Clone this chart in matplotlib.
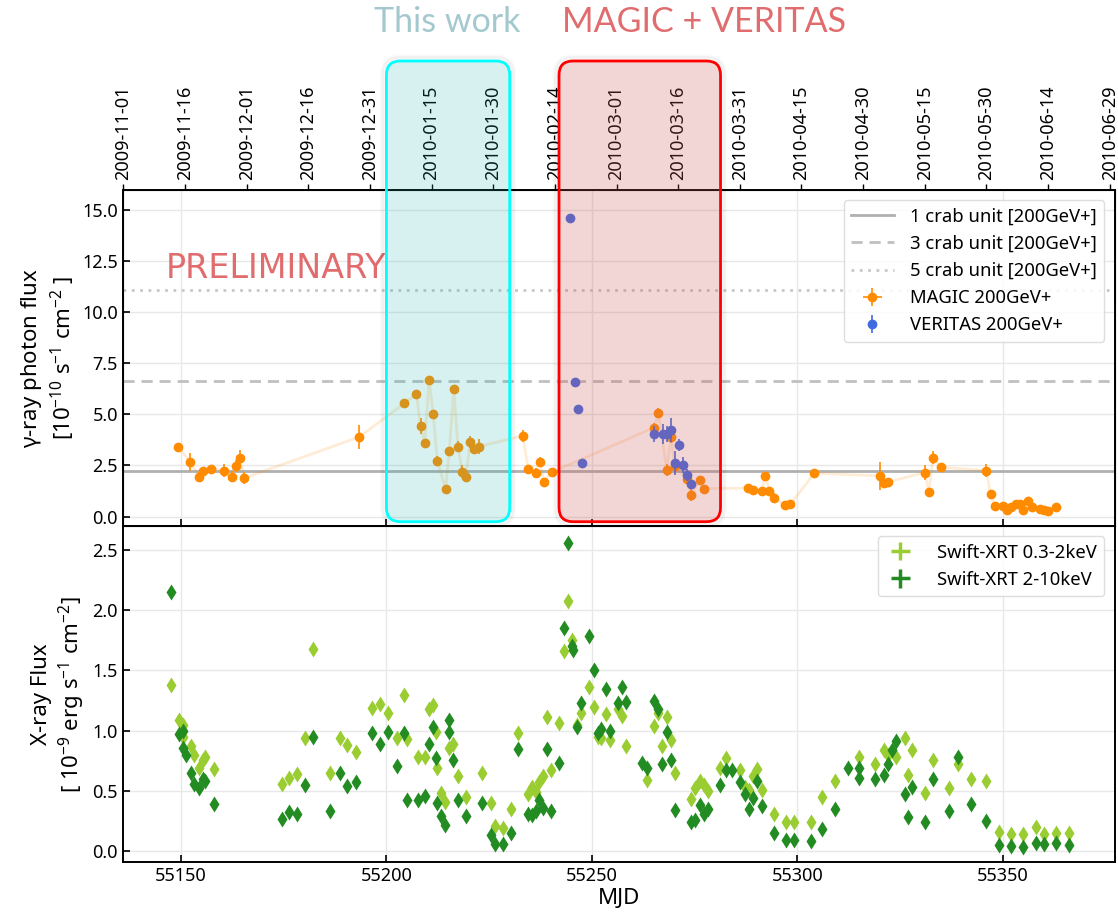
import numpy as np
import matplotlib.pyplot as plt
from matplotlib.patches import FancyBboxPatch
from matplotlib.transforms import IdentityTransform

plt.rcParams['font.family'] = ['Noto Sans', 'DejaVu Sans']
plt.rcParams['mathtext.default'] = 'regular'

# MAGIC 200GeV+ (MJD, flux [1e-10 s-1 cm-2], error)
magic_mjd = [55149.3, 55152.3, 55154.4, 55155.3, 55157.3, 55160.4, 55162.4, 55163.4, 55164.3, 55165.4,
             55193.4, 55204.4, 55207.3, 55208.3, 55209.3, 55210.4, 55211.4, 55212.4, 55214.4, 55215.3,
             55216.4, 55217.4, 55218.4, 55219.3, 55220.4, 55221.4, 55222.5, 55233.2, 55234.5, 55236.3,
             55237.3, 55238.3, 55240.2, 55265.2, 55266.2, 55268.2, 55269.2, 55270.2, 55273.1, 55274.1,
             55276.2, 55277.2, 55288.1, 55289.1, 55291.3, 55292.2, 55293.2, 55294.2, 55297.0, 55298.3,
             55304.1, 55320.0, 55321.0, 55322.1, 55331.0, 55332.0, 55333.0, 55335.0, 55346.0, 55347.0,
             55348.0, 55350.0, 55351.1, 55352.1, 55353.1, 55354.1, 55355.0, 55356.0, 55357.0, 55359.0,
             55360.0, 55361.1, 55363.0]
magic_flux = [3.43, 2.66, 1.96, 2.25, 2.35, 2.25, 1.96, 2.48, 2.87, 1.88,
              3.90, 5.55, 6.00, 4.45, 3.59, 6.67, 5.02, 2.72, 1.34, 3.23,
              6.25, 3.43, 2.20, 1.94, 3.64, 3.33, 3.43, 3.95, 2.32, 2.12,
              2.66, 1.70, 2.17, 4.36, 5.06, 2.28, 3.88, 2.48, 1.84, 1.06,
              1.79, 1.37, 1.39, 1.31, 1.27, 1.99, 1.27, 0.90, 0.57, 0.60,
              2.12, 1.99, 1.66, 1.70, 2.15, 1.21, 2.89, 2.41, 2.25, 1.09,
              0.52, 0.52, 0.33, 0.49, 0.62, 0.62, 0.33, 0.78, 0.46, 0.39,
              0.33, 0.28, 0.49]
magic_err = [0.15, 0.45, 0.2, 0.2, 0.15, 0.3, 0.25, 0.3, 0.4, 0.3,
             0.6, 0.15, 0.15, 0.4, 0.2, 0.15, 0.2, 0.25, 0.15, 0.2,
             0.15, 0.25, 0.3, 0.2, 0.3, 0.2, 0.35, 0.3, 0.15, 0.25,
             0.25, 0.15, 0.15, 0.2, 0.25, 0.3, 0.3, 0.3, 0.2, 0.3,
             0.2, 0.15, 0.15, 0.15, 0.15, 0.2, 0.15, 0.25, 0.15, 0.15,
             0.15, 0.7, 0.2, 0.2, 0.35, 0.15, 0.3, 0.15, 0.3, 0.15,
             0.15, 0.15, 0.1, 0.1, 0.15, 0.1, 0.1, 0.15, 0.1, 0.1,
             0.1, 0.1, 0.1]

# VERITAS 200GeV+
veritas_mjd = [55244.7, 55245.8, 55246.7, 55247.7, 55265.2, 55267.2, 55268.2, 55269.2,
               55270.2, 55271.2, 55272.2, 55273.1, 55274.1]
veritas_flux = [14.65, 6.59, 5.27, 2.61, 4.03, 4.03, 4.03, 4.24, 2.61, 3.52, 2.51, 2.02, 1.61]
veritas_err = [0.1, 0.1, 0.1, 0.1, 0.4, 0.5, 0.4, 0.6, 0.6, 0.3, 0.4, 0.3, 0.2]

crab_unit = 2.22

# Swift-XRT 0.3-2 keV (MJD, flux [1e-9 erg s-1 cm-2])
soft_mjd = [55147.6, 55149.6, 55150.6, 55150.6, 55152.4, 55153.3, 55154.4, 55155.4, 55155.9, 55158.1,
            55174.7, 55176.2, 55178.2, 55180.1, 55182.2, 55186.2, 55188.6, 55190.4, 55192.5, 55196.4,
            55198.4, 55200.3, 55202.5, 55204.4, 55204.9, 55207.8, 55209.3, 55210.4, 55211.4, 55212.0,
            55212.4, 55213.4, 55214.3, 55215.3, 55216.3, 55217.3, 55219.3, 55223.3, 55225.4, 55226.5,
            55228.3, 55230.2, 55232.1, 55234.4, 55235.5, 55236.3, 55237.1, 55238.1, 55239.1, 55240.0,
            55242.1, 55243.3, 55244.3, 55245.2, 55246.4, 55247.3, 55249.4, 55250.5, 55251.6, 55252.3,
            55253.4, 55254.4, 55256.3, 55257.3, 55258.3, 55263.3, 55265.2, 55266.2, 55267.1, 55268.2,
            55269.2, 55270.2, 55274.1, 55275.2, 55276.3, 55277.3, 55278.3, 55281.1, 55282.6, 55286.1,
            55287.3, 55288.2, 55289.2, 55290.2, 55291.3, 55294.2, 55297.2, 55299.1, 55303.3, 55306.1,
            55309.2, 55315.1, 55318.9, 55321.0, 55322.0, 55324.0, 55326.1, 55327.0, 55328.0, 55331.0,
            55333.1, 55336.9, 55339.1, 55342.2, 55346.0, 55349.1, 55352.0, 55354.9, 55358.0, 55360.0,
            55363.0, 55366.0]
soft_flux = [1.38, 1.09, 1.05, 0.95, 0.87, 0.80, 0.69, 0.76, 0.78, 0.68,
             0.56, 0.61, 0.64, 0.94, 1.68, 0.65, 0.94, 0.88, 0.82, 1.19,
             1.22, 1.15, 0.94, 1.30, 0.93, 0.78, 0.78, 1.18, 1.21, 0.99,
             0.69, 0.48, 0.41, 0.86, 0.89, 0.62, 0.45, 0.65, 0.40, 0.21,
             0.19, 0.35, 0.98, 0.47, 0.53, 0.49, 0.57, 0.62, 1.11, 0.67,
             1.06, 1.66, 2.08, 1.75, 1.05, 1.15, 1.36, 1.20, 0.95, 0.94,
             1.14, 0.92, 1.18, 1.12, 0.87, 0.59, 1.04, 1.15, 0.87, 1.11,
             0.92, 0.65, 0.43, 0.52, 0.58, 0.55, 0.50, 0.69, 0.77, 0.67,
             0.53, 0.51, 0.62, 0.68, 0.51, 0.31, 0.24, 0.24, 0.24, 0.45,
             0.58, 0.78, 0.72, 0.84, 0.80, 0.78, 0.94, 0.63, 0.84, 0.48,
             0.76, 0.52, 0.72, 0.60, 0.58, 0.16, 0.14, 0.14, 0.20, 0.14,
             0.15, 0.15]

# Swift-XRT 2-10 keV
hard_mjd = [55147.6, 55149.6, 55150.6, 55150.6, 55151.3, 55152.4, 55153.3, 55154.4, 55155.4, 55155.9,
            55158.1, 55174.7, 55176.2, 55178.2, 55180.1, 55182.2, 55186.2, 55188.6, 55190.4, 55192.5,
            55196.4, 55198.4, 55200.3, 55202.5, 55204.4, 55204.9, 55207.8, 55209.3, 55210.4, 55211.4,
            55212.0, 55212.4, 55213.4, 55214.3, 55215.3, 55215.3, 55216.3, 55217.3, 55219.3, 55223.3,
            55225.4, 55226.5, 55228.3, 55230.2, 55232.1, 55234.4, 55235.5, 55236.3, 55237.1, 55238.1,
            55239.1, 55240.0, 55242.1, 55243.3, 55244.3, 55245.2, 55245.4, 55246.4, 55247.3, 55249.4,
            55250.5, 55251.6, 55252.3, 55253.4, 55254.4, 55256.3, 55257.3, 55258.3, 55262.2, 55263.3,
            55265.2, 55266.2, 55267.1, 55268.2, 55269.2, 55270.2, 55274.1, 55275.2, 55276.3, 55277.3,
            55278.3, 55281.1, 55282.6, 55284.2, 55286.1, 55287.3, 55288.2, 55289.2, 55290.2, 55291.3,
            55294.2, 55297.2, 55299.1, 55303.3, 55306.1, 55309.2, 55312.3, 55315.1, 55315.1, 55318.9,
            55321.0, 55322.0, 55323.0, 55324.0, 55326.1, 55327.0, 55328.0, 55331.0, 55333.1, 55336.9,
            55339.1, 55342.2, 55346.0, 55349.1, 55352.0, 55354.9, 55358.0, 55360.0, 55363.0, 55366.0]
hard_flux = [2.15, 0.97, 1.00, 0.86, 0.80, 0.65, 0.56, 0.52, 0.60, 0.58,
             0.39, 0.27, 0.32, 0.31, 0.55, 0.95, 0.33, 0.65, 0.54, 0.57,
             0.98, 0.89, 0.99, 0.71, 0.98, 0.42, 0.42, 0.46, 0.89, 1.03,
             0.77, 0.40, 0.29, 0.22, 1.09, 0.99, 0.76, 0.42, 0.29, 0.40,
             0.13, 0.06, 0.06, 0.15, 0.85, 0.31, 0.30, 0.33, 0.42, 0.36,
             0.85, 0.33, 0.73, 1.85, 2.56, 1.70, 1.67, 1.03, 1.23, 1.79,
             1.50, 0.98, 1.01, 1.35, 1.00, 1.23, 1.36, 1.24, 0.73, 0.69,
             1.25, 1.18, 0.72, 0.99, 0.76, 0.34, 0.24, 0.26, 0.38, 0.31,
             0.35, 0.55, 0.67, 0.67, 0.57, 0.47, 0.35, 0.44, 0.58, 0.37,
             0.15, 0.09, 0.09, 0.08, 0.18, 0.35, 0.69, 0.69, 0.61, 0.60,
             0.63, 0.72, 0.84, 0.91, 0.47, 0.28, 0.53, 0.24, 0.60, 0.33,
             0.78, 0.39, 0.25, 0.05, 0.04, 0.03, 0.07, 0.06, 0.07, 0.05]

# top axis calendar ticks
date_mjd = [55136, 55151, 55166, 55181, 55196, 55211, 55226, 55241, 55256,
            55271, 55286, 55301, 55316, 55331, 55346, 55361, 55376]
date_labels = ['2009-11-01', '2009-11-16', '2009-12-01', '2009-12-16', '2009-12-31',
               '2010-01-15', '2010-01-30', '2010-02-14', '2010-03-01', '2010-03-16',
               '2010-03-31', '2010-04-15', '2010-04-30', '2010-05-15', '2010-05-30',
               '2010-06-14', '2010-06-29']

# highlighted time windows (MJD)
win_this_work = (55200.0, 55230.0)
win_magic_veritas = (55242.0, 55281.3)

W, H = 1118, 916
fig = plt.figure(figsize=(W / 100, H / 100), dpi=100)
ax1 = fig.add_axes([0.110, 0.4261, 0.887, 0.3665])
ax2 = fig.add_axes([0.110, 0.0586, 0.887, 0.3671], sharex=ax1)

for ax in (ax1, ax2):
    ax.grid(True, color='#e8e8e8', lw=1.0, zorder=0)
    ax.set_axisbelow(True)
    ax.tick_params(direction='in', labelsize=13, length=5, width=1.2)
    for s in ax.spines.values():
        s.set_linewidth(1.4)

# ---- gamma-ray panel
ax1.axhline(crab_unit, color='#b0b0b0', lw=2, label='1 crab unit [200GeV+]', zorder=1)
ax1.axhline(3 * crab_unit, color='#c0c0c0', lw=2, ls=(0, (4, 2.5)), label='3 crab unit [200GeV+]', zorder=1)
ax1.axhline(5 * crab_unit, color='#c8c8c8', lw=2, ls=(0, (1, 2)), label='5 crab unit [200GeV+]', zorder=1)

ax1.plot(magic_mjd, magic_flux, '-', color='darkorange', alpha=0.16, lw=2, zorder=2)
ax1.errorbar(magic_mjd, magic_flux, yerr=magic_err, xerr=0.25, fmt='o', color='darkorange',
             ms=6, elinewidth=1.2, capsize=0, label='MAGIC 200GeV+', zorder=3)
ax1.errorbar(veritas_mjd, veritas_flux, yerr=veritas_err, fmt='o', color='royalblue',
             ms=6, elinewidth=1.2, capsize=0, label='VERITAS 200GeV+', zorder=4)

ax1.set_ylim(-0.45, 16.0)
ax1.set_yticks(np.arange(0, 15.1, 2.5))
ax1.yaxis.set_major_formatter(plt.FormatStrFormatter('%.1f'))
ax1.tick_params(labelbottom=False)
ax1.set_ylabel('$\\gamma$-ray photon flux\n[10$^{-10}$ s$^{-1}$ cm$^{-2}$ ]', fontsize=16)
ax1.legend(loc='upper right', fontsize=13.3, handlelength=2.3, handletextpad=0.9,
           framealpha=0.85, edgecolor='#d8d8d8', borderaxespad=0.55)
ax1.text(55146.2, 12.17, 'PRELIMINARY', color='#e06c6e', fontsize=24, va='center', ha='left',
         family=['DejaVu Sans'], zorder=5)

# ---- X-ray panel
ax2.plot(soft_mjd, soft_flux, 'd', color='yellowgreen', ms=8, mec='none', zorder=3)
ax2.plot(hard_mjd, hard_flux, 'd', color='forestgreen', ms=8, mec='none', zorder=3)
ax2.errorbar([], [], yerr=[], xerr=[], fmt='none', ecolor='yellowgreen', elinewidth=2.5,
             label='Swift-XRT 0.3-2keV')
ax2.errorbar([], [], yerr=[], xerr=[], fmt='none', ecolor='forestgreen', elinewidth=2.5,
             label='Swift-XRT 2-10keV')
ax2.set_ylim(-0.094, 2.70)
ax2.set_yticks(np.arange(0, 2.51, 0.5))
ax2.yaxis.set_major_formatter(plt.FormatStrFormatter('%.1f'))
ax2.set_xlim(55135.9, 55377.2)
ax2.set_xticks([55150, 55200, 55250, 55300, 55350])
ax2.set_xlabel('MJD', fontsize=16, labelpad=2)
ax2.set_ylabel('X-ray Flux\n[ 10$^{-9}$ erg s$^{-1}$ cm$^{-2}$]', fontsize=16)
ax2.legend(loc='upper right', fontsize=13.3, handlelength=1.6, handletextpad=1.2,
           framealpha=0.85, edgecolor='#d8d8d8', borderaxespad=0.55)

# ---- calendar axis on top
top = ax1.twiny()
top.set_xlim(ax1.get_xlim())
top.set_xticks(date_mjd)
top.set_xticklabels(date_labels, rotation=90, fontsize=13)
top.tick_params(direction='out', length=4, width=1.0, pad=3)

# ---- highlight boxes drawn over everything, in figure pixels
def window_box(mjd_range, face, edge):
    x0 = ax1.transData.transform((mjd_range[0], 0))[0]
    x1 = ax1.transData.transform((mjd_range[1], 0))[0]
    y0, y1 = H - 521.7, H - 61
    # soft halo
    for grow, a in ((4.5, 0.02), (3, 0.035)):
        halo = FancyBboxPatch((x0 - grow, y0 - grow), x1 - x0 + 2 * grow, y1 - y0 + 2 * grow,
                              boxstyle='round,pad=0,rounding_size=%g' % (14 + grow),
                              transform=IdentityTransform(), facecolor='none',
                              edgecolor=(0, 0, 0, a), lw=3, zorder=9)
        fig.add_artist(halo)
    box = FancyBboxPatch((x0, y0), x1 - x0, y1 - y0, boxstyle='round,pad=0,rounding_size=14',
                         transform=IdentityTransform(), facecolor=face, edgecolor=edge, lw=2,
                         zorder=10)
    fig.add_artist(box)

window_box(win_this_work, (0.13, 0.70, 0.67, 0.18), 'cyan')
window_box(win_magic_veritas, (0.80, 0.36, 0.36, 0.25), 'red')

fig.text(447 / W, 1 - 22 / H, 'This work', ha='center', va='center', fontsize=24.5,
         color='#a3c9cf', family=['Lato', 'DejaVu Sans'])
fig.text(704 / W, 1 - 22 / H, 'MAGIC + VERITAS', ha='center', va='center', fontsize=24.5,
         color='#e06c6e', family=['Lato', 'DejaVu Sans'])

fig.savefig('out.png', dpi=100)
